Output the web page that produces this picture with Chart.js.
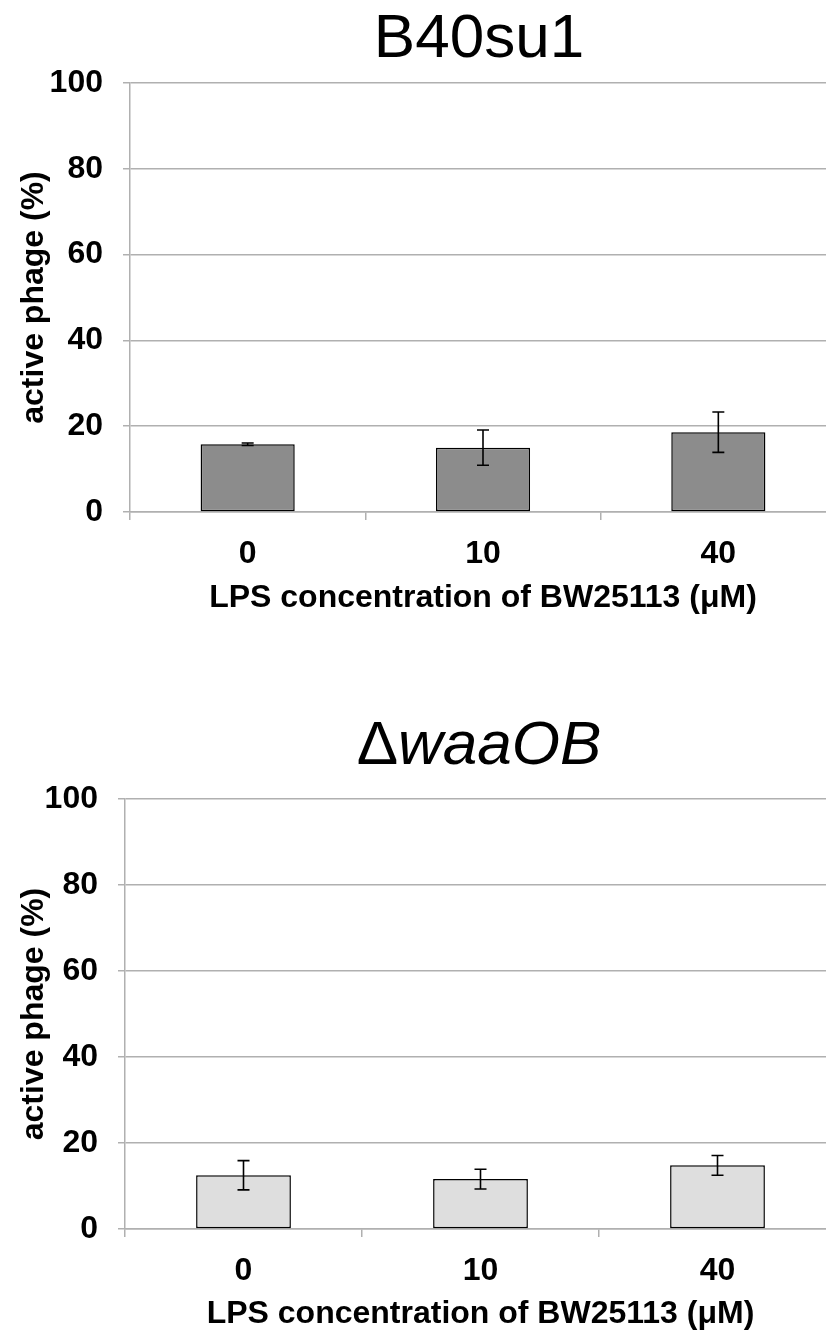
<!DOCTYPE html>
<html><head><meta charset="utf-8">
<script src="https://cdn.jsdelivr.net/npm/chart.js@4/dist/chart.umd.min.js"></script>
<style>
html,body{margin:0;padding:0;background:#fff;overflow:hidden;width:826px;height:1334px;position:relative;}
.wrap{position:absolute;left:0;width:836px;height:667px;}
.title{position:absolute;width:958px;left:0;text-align:center;font-family:'Liberation Sans',Arial,sans-serif;color:#000;line-height:1;white-space:nowrap;}
</style>
</head><body>
<div class="wrap" style="top:0"><canvas id="c1"></canvas></div>
<div class="wrap" style="top:667px"><canvas id="c2"></canvas></div>
<div class="title" id="t1" style="top:5px;font-size:62px;">B40su1</div>
<div class="title" id="t2" style="top:712px;font-size:62px;">Δ<i>waaOB</i></div>
<script>
const categories = ['0', '10', '40'];
const b40Values = [15.8, 15.0, 18.6];
const b40Errors = [0.3, 4.1, 4.7];
const waaValues = [12.5, 11.6, 14.8];
const waaErrors = [3.4, 2.3, 2.3];
const yTicks = [0, 20, 40, 60, 80, 100];
const xTitle = 'LPS concentration of BW25113 (μM)';
const yTitle = 'active phage (%)';

const FONT = "'Liberation Sans', Arial, sans-serif";

const errorBarPlugin = {
  id: 'errorBars',
  afterDatasetsDraw(chart) {
    const ctx = chart.ctx;
    const ys = chart.scales.y;
    chart.data.datasets.forEach((ds, di) => {
      const meta = chart.getDatasetMeta(di);
      meta.data.forEach((bar, i) => {
        const v = ds.data[i], e = ds.errors[i];
        const yt = ys.getPixelForValue(v + e);
        const yb = ys.getPixelForValue(v - e);
        const x = bar.x, cw = 6;
        ctx.save();
        ctx.strokeStyle = '#000';
        ctx.lineWidth = 1.6;
        ctx.beginPath();
        ctx.moveTo(x, yt); ctx.lineTo(x, yb);
        ctx.moveTo(x - cw, yt); ctx.lineTo(x + cw, yt);
        ctx.moveTo(x - cw, yb); ctx.lineTo(x + cw, yb);
        ctx.stroke();
        ctx.restore();
      });
    });
  }
};

function makeChart(id, values, errors, color, cfg) {
  return new Chart(document.getElementById(id), {
    type: 'bar',
    data: {
      labels: categories,
      datasets: [{
        data: values,
        errors: errors,
        backgroundColor: color,
        borderColor: '#000',
        borderWidth: 1.5,
        borderSkipped: false,
        categoryPercentage: 1,
        barPercentage: 0.4
      }]
    },
    options: {
      responsive: true,
      maintainAspectRatio: false,
      animation: false,
      layout: { padding: { top: cfg.top, left: 0, right: 0, bottom: 0 } },
      plugins: { legend: { display: false }, tooltip: { enabled: false }, title: { display: false } },
      scales: {
        x: {
          grid: { display: true, drawOnChartArea: false, drawTicks: true, tickLength: 8, color: '#b0b0b0', lineWidth: 1.5, offset: true },
          border: { display: true, color: '#b0b0b0', width: 1.5 },
          ticks: { color: '#000', font: { family: FONT, size: 32, weight: 'bold' }, padding: 15 },
          title: { display: true, text: xTitle, color: '#000', font: { family: FONT, size: 32, weight: 'bold' }, padding: { top: 0, bottom: cfg.xTitlePad } },
          afterFit(s) { s.height = cfg.xHeight; }
        },
        y: {
          min: 0, max: 100,
          afterBuildTicks(s) { s.ticks = yTicks.map(v => ({ value: v })); },
          grid: { color: '#b0b0b0', lineWidth: 1.5, drawTicks: true, tickLength: 7 },
          border: { display: true, color: '#b0b0b0', width: 1.5 },
          ticks: { color: '#000', font: { family: FONT, size: 32, weight: 'bold' }, padding: 20 },
          title: { display: true, text: yTitle, color: '#000', font: { family: FONT, size: 32, weight: 'bold' }, padding: { top: 15, bottom: 0 } },
          afterFit(s) { s.width = cfg.yWidth; }
        }
      }
    },
    plugins: [errorBarPlugin]
  });
}

makeChart('c1', b40Values, b40Errors, '#8c8c8c', { top: 83, xHeight: 155, xTitlePad: 50, yWidth: 130 });
makeChart('c2', waaValues, waaErrors, '#dedede', { top: 132, xHeight: 105, xTitlePad: 1, yWidth: 125 });
</script>
</body></html>
